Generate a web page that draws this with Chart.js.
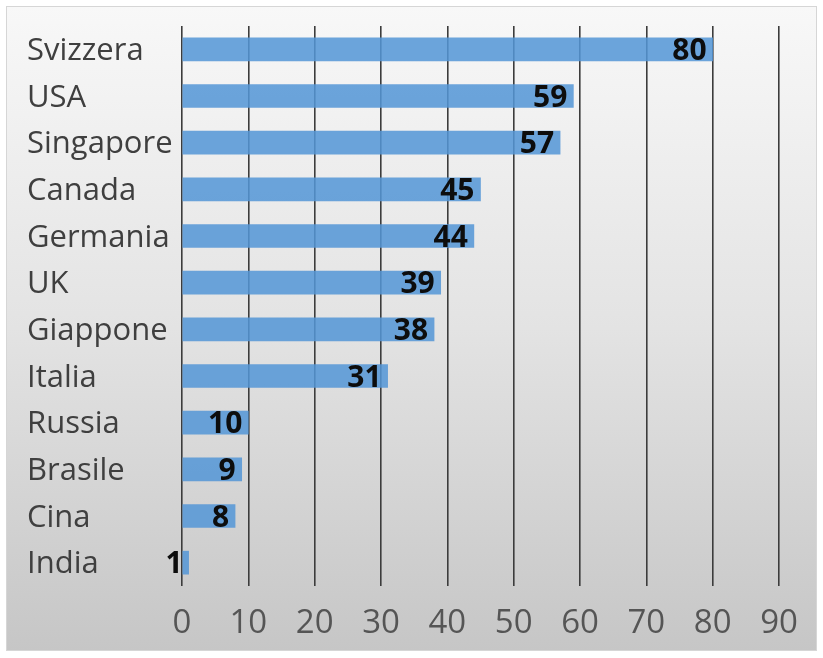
<!DOCTYPE html>
<html>
<head>
<meta charset="utf-8">
<title>Paesi</title>
<script src="https://cdn.jsdelivr.net/npm/chart.js@4/dist/chart.umd.min.js"></script>
<style>
  html, body { margin: 0; padding: 0; background: #ffffff; overflow: hidden; }
  #wrap { width: 823px; height: 658px; position: relative; }
</style>
</head>
<body>
<div id="wrap"><canvas id="chart"></canvas></div>
<script>
// Countries and their values
const countries = ['Svizzera', 'USA', 'Singapore', 'Canada', 'Germania', 'UK',
                   'Giappone', 'Italia', 'Russia', 'Brasile', 'Cina', 'India'];
const values = [80, 59, 57, 45, 44, 39, 38, 31, 10, 9, 8, 1];
const axisTicks = [0, 10, 20, 30, 40, 50, 60, 70, 80, 90];

const FONT = '"Open Sans", "Noto Sans", sans-serif';

// Framed panel with a soft vertical gradient behind everything
const panelBackground = {
  id: 'panelBackground',
  beforeDraw(chart) {
    const ctx = chart.ctx;
    const w = chart.width, h = chart.height;
    ctx.save();
    ctx.fillStyle = '#ffffff';
    ctx.fillRect(0, 0, w, h);
    const g = ctx.createLinearGradient(0, 6, 0, 651);
    g.addColorStop(0, '#f8f8f8');
    g.addColorStop(0.5, '#e3e3e3');
    g.addColorStop(1, '#c6c6c6');
    ctx.fillStyle = g;
    ctx.fillRect(6, 6, w - 12, h - 13);
    ctx.strokeStyle = '#d6d6d6';
    ctx.lineWidth = 1;
    ctx.strokeRect(6.5, 6.5, w - 13, h - 14);
    ctx.restore();
  }
};

// Bold value written just inside the end of each bar
const valueLabels = {
  id: 'valueLabels',
  afterDatasetsDraw(chart) {
    const ctx = chart.ctx;
    const meta = chart.getDatasetMeta(0);
    const data = chart.data.datasets[0].data;
    ctx.save();
    ctx.font = 'bold 30px ' + FONT;
    ctx.fillStyle = '#0d0d0d';
    ctx.textAlign = 'right';
    ctx.textBaseline = 'middle';
    meta.data.forEach((bar, i) => {
      ctx.fillText(String(data[i]), bar.x - 6, bar.y + 2);
    });
    ctx.restore();
  }
};

new Chart(document.getElementById('chart'), {
  type: 'bar',
  data: {
    labels: countries,
    datasets: [{
      data: values,
      backgroundColor: 'rgba(84,150,214,0.86)',
      borderWidth: 0,
      barThickness: 23
    }]
  },
  options: {
    indexAxis: 'y',
    responsive: true,
    maintainAspectRatio: false,
    animation: false,
    layout: { padding: { left: 27, right: 44, top: 26, bottom: 0 } },
    plugins: {
      legend: { display: false },
      tooltip: { enabled: false }
    },
    scales: {
      x: {
        min: 0,
        max: 90,
        afterBuildTicks(scale) {
          scale.ticks = axisTicks.map(v => ({ value: v }));
        },
        afterFit(scale) { scale.height = 72; },
        grid: {
          color: '#3c3c3c',
          lineWidth: 1.6,
          drawTicks: false
        },
        border: { display: false },
        ticks: {
          padding: 18,
          color: '#555555',
          font: { family: FONT, size: 33 }
        }
      },
      y: {
        afterFit(scale) { scale.width = 155; },
        grid: { display: false, drawTicks: false },
        border: { display: false },
        ticks: {
          crossAlign: 'far',
          labelOffset: 2,
          color: '#3f3f3f',
          font: { family: FONT, size: 31 }
        }
      }
    }
  },
  plugins: [panelBackground, valueLabels]
});
</script>
</body>
</html>
